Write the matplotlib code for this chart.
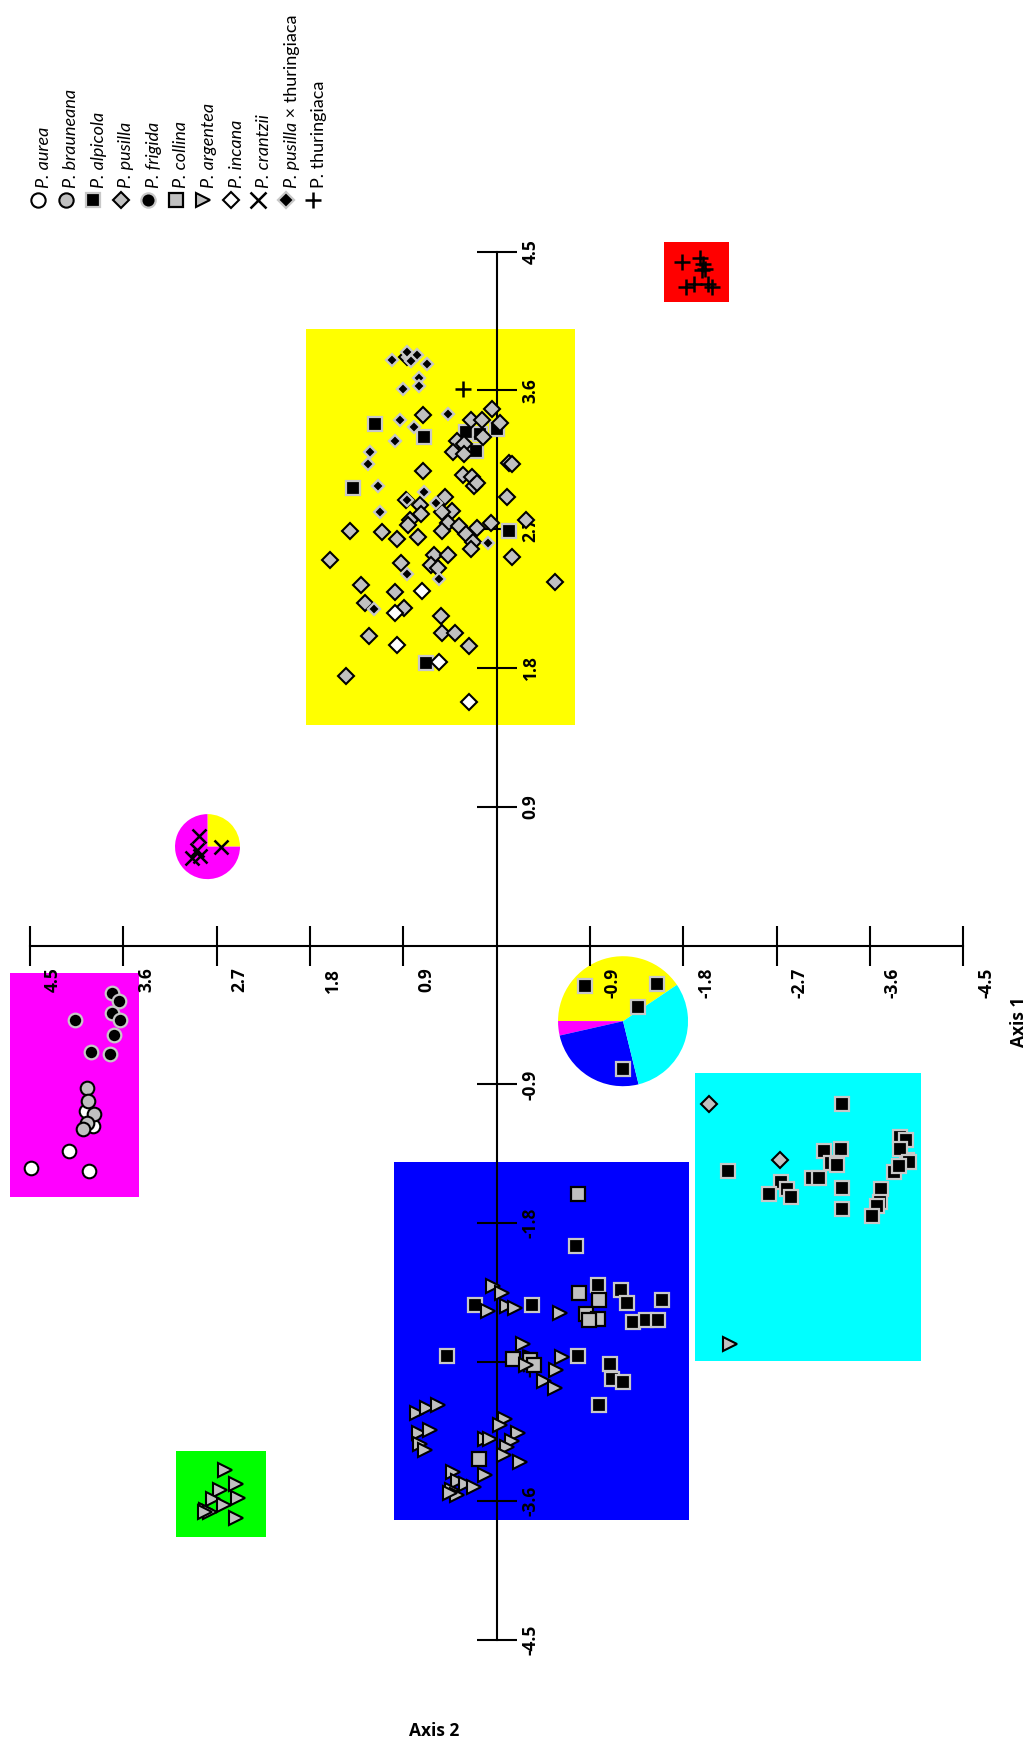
import matplotlib.pyplot as plt
from matplotlib.patches import Rectangle, Wedge
from matplotlib.transforms import ScaledTranslation

plt.rcParams['font.family'] = ['Lato', 'DejaVu Sans']

# ---- PCoA scores (axis 1, axis 2) per taxon ----
aurea_x = [3.96, 3.89, 4.12, 4.49, 3.93]
aurea_y = [-1.07, -1.17, -1.33, -1.44, -1.46]

brauneana_x = [3.95, 3.94, 3.88, 3.95, 3.99]
brauneana_y = [-0.92, -1.01, -1.09, -1.15, -1.19]

alpicola_x = [1.17, 0.70, 0.29, 0.16, 0.00, 0.20, 1.38, -0.12, 0.68,
              -0.85, -1.55, -1.36, -1.22,
              -0.77, -0.98, -1.20, -1.26, -1.60, 0.21, -0.34, -1.32, -1.44, -1.56,
              -0.79, 0.48, -1.09, -1.11, -1.22, -0.99,
              -3.33, -2.23, -2.74, -2.80, -2.63, -2.84, -3.16, -3.32, -3.23, -3.28,
              -3.04, -3.11, -3.33, -3.33, -3.89, -3.95, -3.96, -3.89, -3.98, -3.83,
              -3.88, -3.71, -3.70, -3.67, -3.62]
alpicola_y = [3.38, 3.30, 3.33, 3.32, 3.35, 3.21, 2.97, 2.69, 1.83,
              -0.26, -0.25, -0.40, -0.80,
              -1.95, -2.20, -2.23, -2.32, -2.30, -2.33, -2.33, -2.44, -2.43, -2.43,
              -2.66, -2.66, -2.71, -2.81, -2.83, -2.98,
              -1.03, -1.46, -1.53, -1.58, -1.61, -1.63, -1.33, -1.32, -1.41, -1.42,
              -1.51, -1.51, -1.57, -1.71, -1.24, -1.26, -1.39, -1.32, -1.40, -1.47,
              -1.43, -1.58, -1.66, -1.69, -1.75]

pusilla_x = [0.86, 0.71, 0.04, 0.25, 0.14, -0.03, 0.13, 0.38, 0.31, 0.42,
             0.31, -0.12, -0.15, 0.71, 0.32, 0.24, 0.22, 0.19, -0.10, 0.87,
             0.50, 0.74, 0.43, 0.53, 0.73, 0.83, 0.85, 0.47, 0.36, 1.41,
             1.10, 0.96, 0.76, 0.53, 0.29, 0.19, 0.05, -0.28, 0.23, 0.25,
             1.61, 0.92, 0.60, 0.47, 0.63, 0.56, -0.15, -0.56, 1.31, 0.98,
             1.27, 0.89, 0.54, 1.23, 0.53, 0.40, 0.27, 1.45,
             -2.05, -2.73]
pusilla_y = [3.82, 3.44, 3.48, 3.41, 3.41, 3.39, 3.30, 3.27, 3.25, 3.20,
             3.19, 3.13, 3.12, 3.08, 3.05, 3.04, 2.98, 3.00, 2.91, 2.89,
             2.91, 2.86, 2.82, 2.81, 2.80, 2.76, 2.73, 2.74, 2.72, 2.69,
             2.68, 2.64, 2.65, 2.69, 2.67, 2.71, 2.74, 2.76, 2.62, 2.57,
             2.50, 2.48, 2.53, 2.53, 2.47, 2.45, 2.52, 2.36, 2.34, 2.29,
             2.22, 2.19, 2.14, 2.01, 2.03, 2.03, 1.94, 1.75,
             -1.03, -1.39]

frigida_x = [3.71, 3.64, 3.71, 3.63, 4.06, 3.69, 3.91, 3.73]
frigida_y = [-0.31, -0.36, -0.44, -0.48, -0.48, -0.58, -0.69, -0.70]

collina_x = [-0.79, -0.80, -0.99, -0.86, -0.98, -0.89, -0.16, -0.32, -0.36, 0.17]
collina_y = [-1.61, -2.25, -2.30, -2.39, -2.42, -2.43, -2.68, -2.69, -2.72, -3.33]

argentea_x = [2.62, 2.51, 2.67, 2.49, 2.73, 2.63, 2.80, 2.76, 2.51, 2.81,
              0.03, -0.05, 0.08, -0.10, -0.18, -0.61, -0.26, -0.63, -0.28, -0.57,
              -0.46, -0.56, 0.77, 0.67, 0.56, 0.75, 0.64, 0.74, 0.69, -0.08,
              -0.03, 0.11, 0.06, -0.21, -0.15, -0.10, -0.07, -0.23, 0.11, 0.42,
              0.37, 0.29, 0.22, 0.43, 0.38, 0.45,
              -2.25]
argentea_y = [-3.40, -3.49, -3.53, -3.58, -3.59, -3.63, -3.66, -3.67, -3.71, -3.67,
              -2.21, -2.25, -2.37, -2.34, -2.35, -2.38, -2.58, -2.67, -2.72, -2.75,
              -2.82, -2.87, -3.03, -3.00, -2.98, -3.16, -3.14, -3.23, -3.27, -3.07,
              -3.11, -3.20, -3.20, -3.16, -3.21, -3.25, -3.30, -3.35, -3.43, -3.41,
              -3.47, -3.49, -3.51, -3.53, -3.56, -3.55,
              -2.58]

incana_x = [0.72, 0.98, 0.96, 0.55, 0.27]
incana_y = [2.30, 2.16, 1.95, 1.84, 1.58]

crantzii_x = [2.87, 2.66, 2.89, 2.94, 2.86]
crantzii_y = [0.71, 0.64, 0.62, 0.57, 0.58]

hybrid_x = [0.86, 0.77, 1.01, 0.67, 0.82, 0.75, 0.90, 0.75, 0.47, 0.93, 0.80, 0.98,
            1.22, 1.24, 1.14, 0.70, 0.86, 1.12, 0.58, 0.08, 0.86, 0.55, 1.18]
hybrid_y = [3.85, 3.83, 3.80, 3.77, 3.79, 3.68, 3.61, 3.63, 3.45, 3.41, 3.36, 3.27,
            3.20, 3.12, 2.98, 2.94, 2.89, 2.81, 2.87, 2.61, 2.41, 2.38, 2.18]

thuringiaca_x = [-1.79, -1.96, -1.99, -2.01, -1.98, -1.90, -1.83, -2.04, -2.08, 0.32]
thuringiaca_y = [4.43, 4.46, 4.42, 4.39, 4.38, 4.29, 4.27, 4.29, 4.27, 3.61]

# cluster boxes: axis1 min, axis1 max, axis2 min, axis2 max
cluster_boxes = [
    (3.45, 4.69, -1.63, -0.18),
    (-0.757, 1.837, 1.43, 3.998),
    (-2.242, -1.615, 4.175, 4.56),
    (-1.856, 0.988, -3.726, -1.406),
    (-4.091, -1.914, -2.693, -0.829),
    (2.223, 3.091, -3.834, -3.278),
]
cluster_colors = ['#ff00ff', '#ffff00', '#ff0000', '#0000ff', '#00ffff', '#00ff00']

# membership pies for admixed groups
pie_centers = [(2.787, 0.642), (-1.22, -0.49)]
pie_fracs = [[0.25, 0.75], [0.405, 0.036, 0.253, 0.306]]
pie_colors = [['#ffff00', '#ff00ff'], ['#ffff00', '#ff00ff', '#0000ff', '#00ffff']]
pie_start = [0, 34]
pie_radius_px = [32.5, 65]

ticks = [4.5, 3.6, 2.7, 1.8, 0.9, -0.9, -1.8, -2.7, -3.6, -4.5]
tick_labels = ['4.5', '3.6', '2.7', '1.8', '0.9', '-0.9', '-1.8', '-2.7', '-3.6', '-4.5']

legend_labels = ['P. aurea', 'P. brauneana', 'P. alpicola', 'P. pusilla', 'P. frigida',
                 'P. collina', 'P. argentea', 'P. incana', 'P. crantzii',
                 ('P. pusilla', ' × thuringiaca'), 'P. thuringiaca']
legend_italic = [True] * 10 + [False]

GRAY = '#c0c0c0'
EDGE = '#c8c8c8'
styles = [
    dict(marker='o', ms=9.8, mfc='white', mec='black', mew=1.5),
    dict(marker='o', ms=9.8, mfc=GRAY, mec='black', mew=1.5),
    dict(marker='s', ms=9.8, mfc='black', mec=EDGE, mew=1.6),
    dict(marker='D', ms=8.2, mfc=GRAY, mec='black', mew=1.5),
    dict(marker='o', ms=9.8, mfc='black', mec=EDGE, mew=1.6),
    dict(marker='s', ms=9.8, mfc=GRAY, mec='black', mew=1.6),
    dict(marker='>', ms=10.0, mfc=GRAY, mec='black', mew=1.5),
    dict(marker='D', ms=8.2, mfc='white', mec='black', mew=1.5),
    dict(marker='x', ms=10.5, mfc='none', mec='black', mew=1.8),
    dict(marker='D', ms=6.4, mfc='black', mec=EDGE, mew=1.6),
    dict(marker='+', ms=11.0, mfc='none', mec='black', mew=1.8),
]
series = [(aurea_x, aurea_y), (brauneana_x, brauneana_y), (alpicola_x, alpicola_y),
          (pusilla_x, pusilla_y), (frigida_x, frigida_y), (collina_x, collina_y),
          (argentea_x, argentea_y), (incana_x, incana_y), (crantzii_x, crantzii_y),
          (hybrid_x, hybrid_y), (thuringiaca_x, thuringiaca_y)]

W, H, DPI = 1031, 1746, 100
fig = plt.figure(figsize=(W / DPI, H / DPI), dpi=DPI)
ax = fig.add_axes([0, 0, 1, 1])
ax.set_xlim(4.788, -5.154)
ax.set_ylim(-5.19, 6.132)
ax.axis('off')

for (x0, x1, y0, y1), c in zip(cluster_boxes, cluster_colors):
    ax.add_patch(Rectangle((x0, y0), x1 - x0, y1 - y0, facecolor=c, edgecolor='none', zorder=1))

for (cx, cy), fr, cols, a0, r in zip(pie_centers, pie_fracs, pie_colors, pie_start, pie_radius_px):
    trans = fig.dpi_scale_trans + ScaledTranslation(cx, cy, ax.transData)
    a = a0
    for f, c in zip(fr, cols):
        ax.add_patch(Wedge((0, 0), r / DPI, a, a + f * 360, facecolor=c,
                           edgecolor='none', transform=trans, zorder=1.5))
        a += f * 360

# axes cross with ticks
ax.plot([4.5, -4.5], [0, 0], color='black', lw=1.5, zorder=2)
ax.plot([0, 0], [4.5, -4.5], color='black', lw=1.5, zorder=2)
ax.plot(ticks, [0] * len(ticks), ls='none', marker='|', ms=29, mew=1.5, color='black', zorder=2)
ax.plot([0] * len(ticks), ticks, ls='none', marker='_', ms=29, mew=1.5, color='black', zorder=2)

bold = dict(family=['Open Sans', 'DejaVu Sans'], fontweight='bold')
for t, lab in zip(ticks, tick_labels):
    ax.annotate(lab, (t, 0), xytext=(23, -22), textcoords='offset pixels', rotation=90,
                ha='center', va='top', fontsize=12.5, zorder=2.5, **bold)
    ax.annotate(lab, (0, t), xytext=(34, 0), textcoords='offset pixels', rotation=90,
                ha='center', va='center', fontsize=12.5, zorder=2.5, **bold)

for (xs, ys), st in zip(series, styles):
    ax.plot(xs, ys, ls='none', zorder=3, **st)

# axis titles
fig.text(1019 / W, 1 - 1022 / H, 'Axis 1', rotation=90, ha='center', va='center',
         fontsize=12.5, **bold)
fig.text(434 / W, 1 - 1731 / H, 'Axis 2', ha='center', va='center',
         fontsize=12.5, **bold)

# rotated legend along the top
renderer = fig.canvas.get_renderer()
for i, (lab, st, ital) in enumerate(zip(legend_labels, styles, legend_italic)):
    mx = 38 + 27.5 * i
    st_leg = dict(st)
    st_leg['ms'] = st['ms'] * (1.3 if st['ms'] < 7 else 1.05)
    ax.plot([mx / W], [1 - 200 / H], ls='none', transform=fig.transFigure, zorder=4, **st_leg)
    first, rest = (lab, '') if isinstance(lab, str) else lab
    t = fig.text((mx + 11) / W, 1 - 188 / H, first, rotation=90, rotation_mode='anchor',
                 ha='left', va='baseline', fontsize=13,
                 fontstyle='italic' if ital else 'normal')
    if rest:
        bb = t.get_window_extent(renderer=renderer)
        fig.text((mx + 11) / W, bb.y1 / H, rest, rotation=90, rotation_mode='anchor',
                 ha='left', va='baseline', fontsize=13)

fig.savefig('out.png', dpi=DPI)
